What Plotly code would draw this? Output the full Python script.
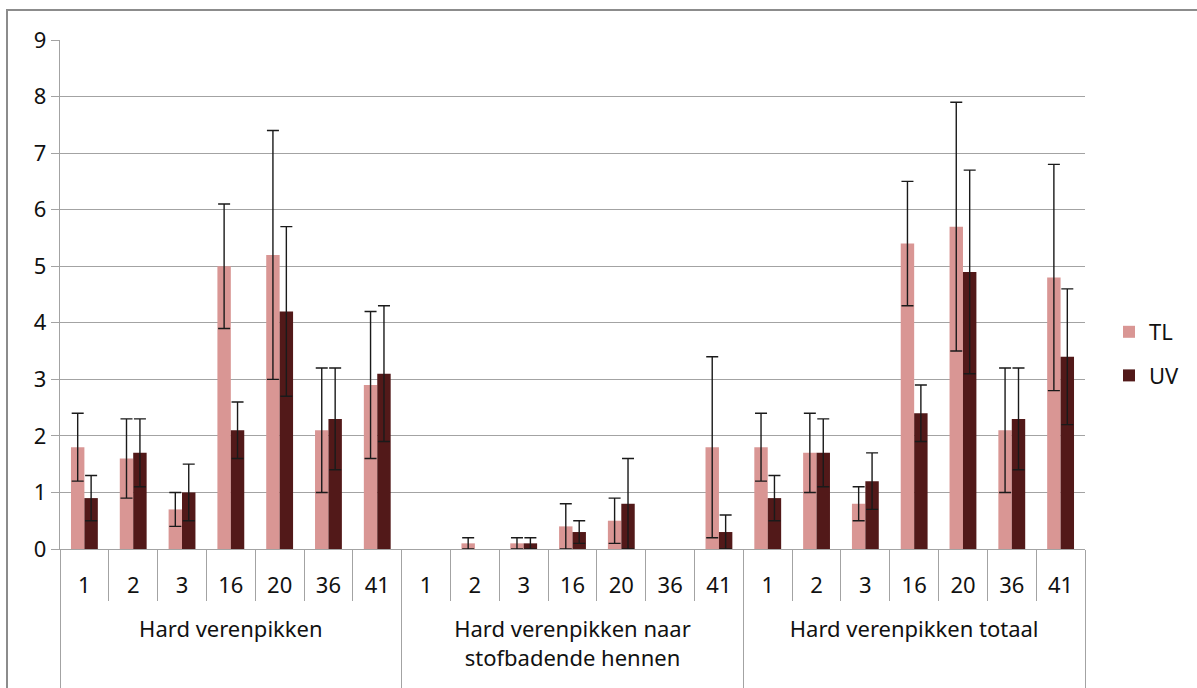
import plotly.graph_objects as go

groups = ["Hard verenpikken", "Hard verenpikken naar<br>stofbadende hennen", "Hard verenpikken totaal"]
subs = ["1", "2", "3", "16", "20", "36", "41"]

tl_values = [
    [1.8, 1.6, 0.7, 5.0, 5.2, 2.1, 2.9],
    [0.0, 0.1, 0.1, 0.4, 0.5, 0.0, 1.8],
    [1.8, 1.7, 0.8, 5.4, 5.7, 2.1, 4.8],
]
tl_errors = [
    [0.6, 0.7, 0.3, 1.1, 2.2, 1.1, 1.3],
    [0.0, 0.1, 0.1, 0.4, 0.4, 0.0, 1.6],
    [0.6, 0.7, 0.3, 1.1, 2.2, 1.1, 2.0],
]
uv_values = [
    [0.9, 1.7, 1.0, 2.1, 4.2, 2.3, 3.1],
    [0.0, 0.0, 0.1, 0.3, 0.8, 0.0, 0.3],
    [0.9, 1.7, 1.2, 2.4, 4.9, 2.3, 3.4],
]
uv_errors = [
    [0.4, 0.6, 0.5, 0.5, 1.5, 0.9, 1.2],
    [0.0, 0.0, 0.1, 0.2, 0.8, 0.0, 0.3],
    [0.4, 0.6, 0.5, 0.5, 1.8, 0.9, 1.2],
]

# group labels are set one line lower (and the dividers run longer), as in the source chart
x_outer = ["<br>" + g + "<br> " for g in groups for _ in subs]
x_inner = [s for _ in groups for s in subs]

def flat(rows):
    return [v for r in rows for v in r]

def vals(rows):
    # empty bars are not drawn (and carry no error bar)
    return [v if v > 0 else None for v in flat(rows)]

FONT = "Noto Sans"
FS = 22
TL_COLOR = "#d99694"
UV_COLOR = "#521919"
GRID = "#a3a3a3"
ERR = "#1a1a1a"
TXT = "#111111"

fig = go.Figure()
fig.add_trace(go.Bar(
    name="TL", x=[x_outer, x_inner], y=vals(tl_values),
    marker=dict(color=TL_COLOR, line=dict(width=0)),
    error_y=dict(type="data", array=flat(tl_errors), color=ERR, thickness=1.4, width=6),
    legendgroup="a",
))
fig.add_trace(go.Bar(
    name="UV", x=[x_outer, x_inner], y=vals(uv_values),
    marker=dict(color=UV_COLOR, line=dict(width=0)),
    error_y=dict(type="data", array=flat(uv_errors), color=ERR, thickness=1.4, width=6),
    legendgroup="b",
))

W, H = 1197, 688
L, R, T, B = 60, 1085, 40, 549
pw, ph = R - L, B - T

def px(xp):
    return (xp - L) / pw

def py(yp):
    return (B - yp) / ph

fig.update_layout(
    width=W, height=H,
    margin=dict(l=L, r=W - R, t=T, b=H - B, autoexpand=False),
    paper_bgcolor="white", plot_bgcolor="white",
    font=dict(family=FONT, size=FS, color=TXT),
    barmode="group", bargap=0.45, bargroupgap=0.0,
    showlegend=True,
    legend=dict(
        x=px(1109), y=py(311), xanchor="left", yanchor="top",
        font=dict(family=FONT, size=FS, color=TXT),
        tracegroupgap=12, bgcolor="rgba(0,0,0,0)",
    ),
    shapes=[dict(
        type="rect", xref="paper", yref="paper",
        x0=px(7), x1=px(1205), y0=py(700), y1=py(10),
        line=dict(color="#8c8c8c", width=2), fillcolor="rgba(0,0,0,0)", layer="below",
    )],
)
fig.update_yaxes(
    range=[0, 9], dtick=1, showgrid=True, gridcolor=GRID, gridwidth=1.3,
    showline=True, linecolor=GRID, linewidth=1.3,
    ticks="outside", ticklen=8, tickcolor=GRID, tickwidth=1.3,
    zeroline=False, tickfont=dict(size=FS), automargin=False,
)
fig.update_xaxes(
    type="multicategory",
    showline=True, linecolor=GRID, linewidth=1.3,
    ticks="outside", ticklen=51, tickcolor=GRID, tickwidth=1.3,
    tickson="boundaries", ticklabelstandoff=16,
    showdividers=True, dividercolor=GRID, dividerwidth=1.3,
    tickfont=dict(size=FS), automargin=False,
)

fig.write_html("out.html", config={"displayModeBar": False},
               post_script="document.body.style.margin='0';")
